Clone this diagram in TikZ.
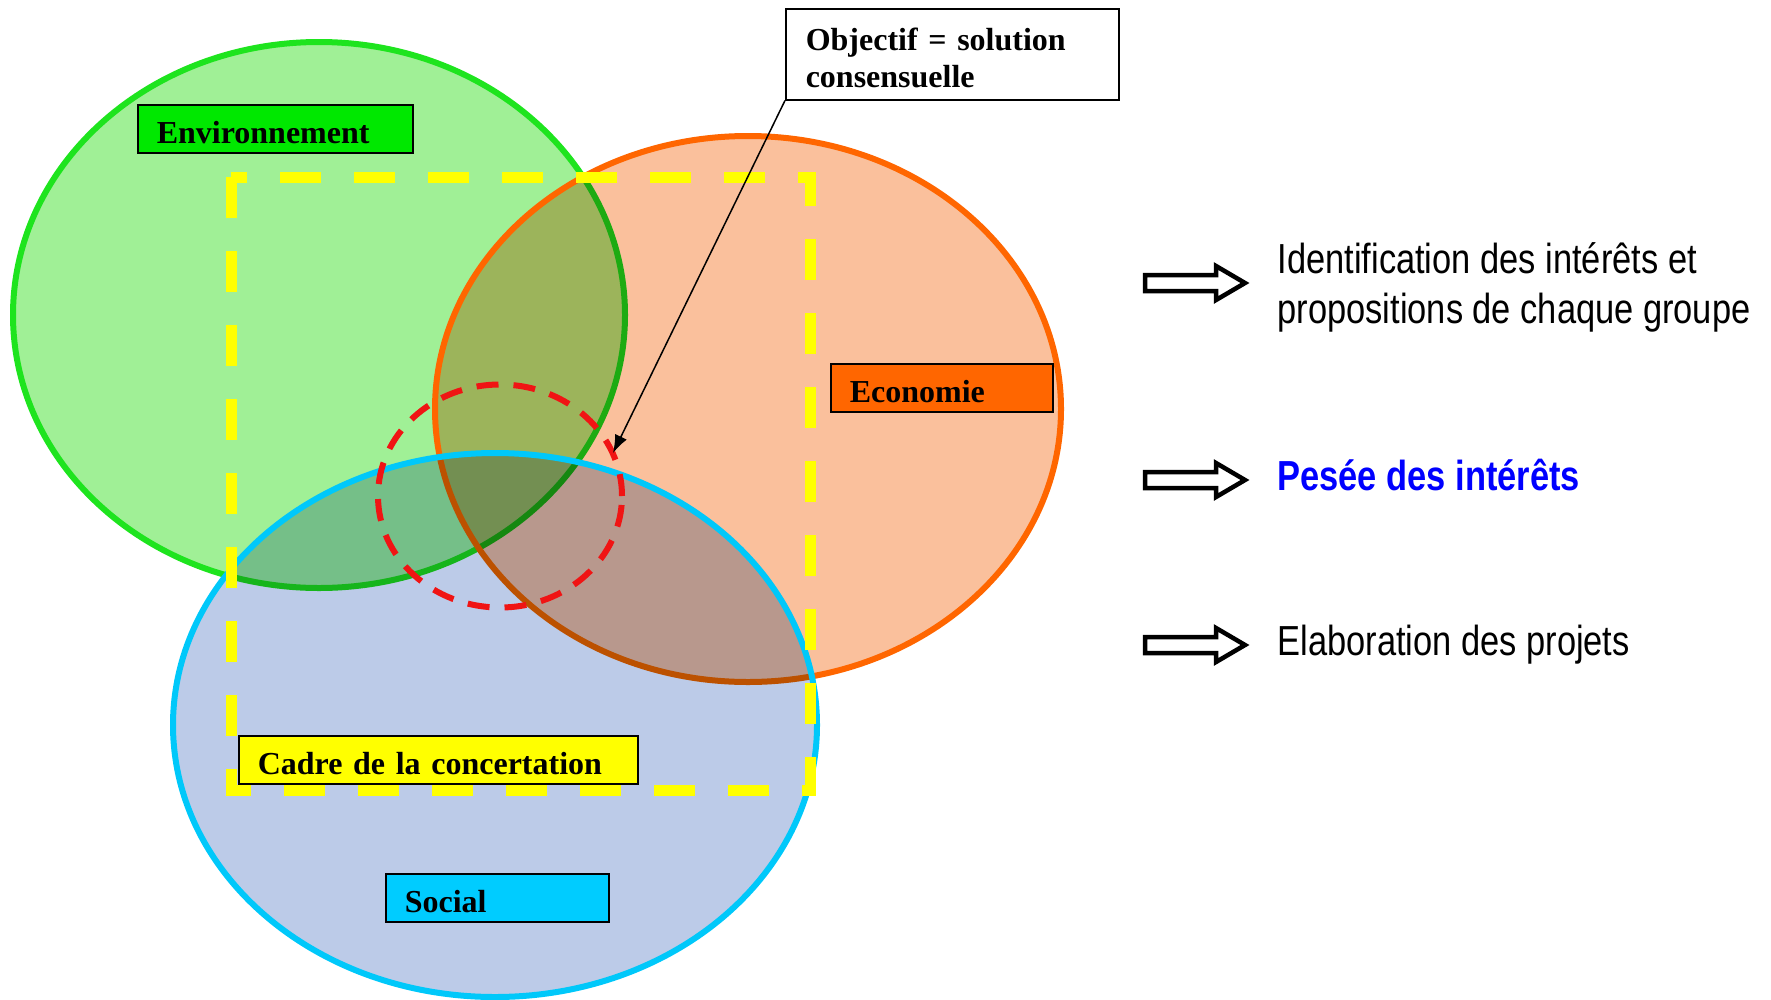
\documentclass[tikz,border=0pt]{standalone}
\usepackage{fontspec}
\setmainfont{Liberation Serif}
\newfontfamily\narrowsf[FakeStretch=0.82]{Liberation Sans}
\usepackage{tikz}
\usetikzlibrary{positioning}
\usetikzlibrary{arrows.meta}

\definecolor{envline}{RGB}{30,228,30}
\definecolor{envfill}{RGB}{160,240,150}
\definecolor{envbox}{RGB}{0,232,0}
\definecolor{ecoline}{RGB}{255,102,0}
\definecolor{ecofill}{RGB}{250,192,156}
\definecolor{socline}{RGB}{0,200,250}
\definecolor{socfill}{RGB}{188,203,232}
\definecolor{socbox}{RGB}{0,204,255}
\definecolor{cadre}{RGB}{255,255,0}
\definecolor{consred}{RGB}{240,20,20}
\definecolor{peseeblue}{RGB}{0,0,255}

\begin{document}
\begin{tikzpicture}[x=1pt, y=-1pt,
				rim/.style={line width=6pt},
				labelbox/.style={draw, line width=1.5pt, anchor=north west, align=left,
					font=\fontsize{32}{37}\selectfont\bfseries, inner xsep=19pt, inner ysep=0pt,
					text height=39pt, text depth=9pt, text width=#1},
				notebox/.style={draw, line width=1.5pt, anchor=north west, align=left, fill=white,
					font=\fontsize{32}{37}\selectfont\bfseries, inner xsep=20pt,
					minimum height=91pt, text width=293pt},
				steptext/.style={align=left, font=\fontsize{42}{50}\selectfont\narrowsf},
				fatarrow/.style={draw=black, fill=white, line width=4.5pt, line join=miter}]

				\useasboundingbox (0,0) rectangle (1771,999);

				% the three circles
				\fill[envfill, blend mode=multiply] (319,315) ellipse [x radius=306pt, y radius=273pt];
				\draw[rim, envline] (319,315) ellipse [x radius=306pt, y radius=273pt];
				\fill[ecofill, blend mode=multiply] (748,409) ellipse [x radius=313pt, y radius=273pt];
				\draw[rim, ecoline] (748,409) ellipse [x radius=313pt, y radius=273pt];
				\fill[socfill, blend mode=multiply] (495,725) ellipse [x radius=322pt, y radius=272pt];
				\draw[rim, socline] (495,725) ellipse [x radius=322pt, y radius=272pt];

				% cadre and consensus zone
				\draw[cadre, line width=11pt, dash pattern=on 41pt off 33pt] (231,177) rectangle (810,790);
				\draw[consred, line width=6pt, dash pattern=on 22pt off 15pt] (500,496) ellipse [x radius=122pt, y radius=111.5pt];

				\node (env) [labelbox=237pt, fill=envbox] at (137,104) {Environnement};
				\node (eco) [labelbox=184pt, fill=ecoline] at (830,363) {Economie};
				\node (cadrebox) [labelbox=361pt, fill=cadre] at (238,735) {Cadre de la concertation};
				\node (soc) [labelbox=185pt, fill=socbox] at (385,873) {Social};

				\node (objectif) [notebox] at (785,8) {\rule{0pt}{30pt}Objectif = solution\\consensuelle};
				\coordinate (consensus) at (613,453);
				\draw [-{Latex[length=18pt, width=13pt]}, line width=1.5pt] (objectif.south west) -- (consensus);

				% steps on the right
				\foreach \yy in {283, 480, 645}
					\draw[fatarrow] (1145,\yy-8) -- (1216,\yy-8) -- (1216,\yy-17) -- (1245,\yy)
						-- (1216,\yy+17) -- (1216,\yy+8) -- (1145,\yy+8) -- cycle;
				\node (ident) [steptext, anchor=west] at (1274,287) {Identification des intérêts et\\propositions de chaque groupe};
				\node (pesee) [steptext, anchor=base west, text=peseeblue, font=\fontsize{42}{50}\selectfont\narrowsf\bfseries] at (1274,490) {Pesée des intérêts};
				\node (elab) [steptext, anchor=base west] at (1274,655) {Elaboration des projets};

			\end{tikzpicture}
\end{document}
